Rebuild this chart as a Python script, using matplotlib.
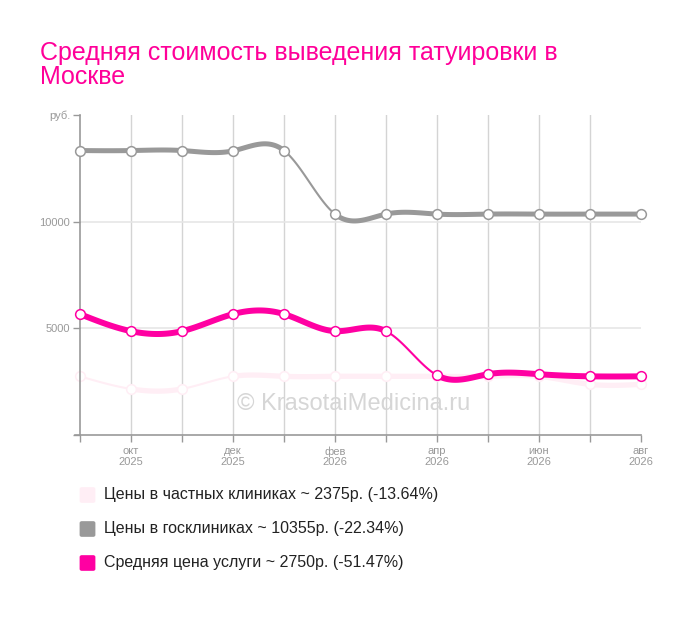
import numpy as np
import matplotlib
matplotlib.use("Agg")
import matplotlib.pyplot as plt
from matplotlib.patches import FancyBboxPatch

plt.rcParams['font.family'] = ['Liberation Sans', 'DejaVu Sans']

months = ["сен", "окт", "ноя", "дек", "янв", "фев", "мар", "апр", "май", "июн", "июл", "авг"]
years = ["2025", "2025", "2025", "2025", "2026", "2026", "2026", "2026", "2026", "2026", "2026", "2026"]
private_prices = [2750, 2160, 2160, 2750, 2750, 2750, 2750, 2750, 2750, 2750, 2375, 2375]
state_prices = [13334, 13334, 13334, 13320, 13334, 10355, 10355, 10355, 10355, 10355, 10355, 10355]
avg_prices = [5667, 4868, 4868, 5667, 5667, 4868, 4868, 2800, 2850, 2850, 2750, 2750]
legend_labels = [
    "Цены в частных клиниках ~ 2375р. (-13.64%)",
    "Цены в госклиниках ~ 10355р. (-22.34%)",
    "Средняя цена услуги ~ 2750р. (-51.47%)",
]
yticks = [0, 5000, 10000, 15000]
ytick_labels = ["", "5000", "10000", "руб."]
labeled_months = [1, 3, 5, 7, 9, 11]

C_PRIV = "#ffeef5"
C_STATE = "#999999"
C_AVG = "#ff00a2"
TXT = "#999999"


def natural_spline(x, y, xs):
    x = np.asarray(x, float)
    y = np.asarray(y, float)
    n = len(x)
    h = np.diff(x)
    A = np.zeros((n, n))
    r = np.zeros(n)
    A[0, 0] = 1
    A[-1, -1] = 1
    for i in range(1, n - 1):
        A[i, i - 1] = h[i - 1]
        A[i, i] = 2 * (h[i - 1] + h[i])
        A[i, i + 1] = h[i]
        r[i] = 3 * ((y[i + 1] - y[i]) / h[i] - (y[i] - y[i - 1]) / h[i - 1])
    c = np.linalg.solve(A, r)
    b = (y[1:] - y[:-1]) / h - h * (2 * c[:-1] + c[1:]) / 3
    d = (c[1:] - c[:-1]) / (3 * h)
    idx = np.clip(np.searchsorted(x, xs, side="right") - 1, 0, n - 2)
    dx = xs - x[idx]
    return y[idx] + b[idx] * dx + c[idx] * dx ** 2 + d[idx] * dx ** 3


fig = plt.figure(figsize=(7.0, 6.17), dpi=100)
W, H = 700, 617
ax = fig.add_axes([80 / W, (H - 435) / H, (641 - 80) / W, (435 - 115) / H])
ax.set_xlim(0, len(months) - 1)
ax.set_ylim(0, 15000)

x = np.arange(len(months))

# grid
for xi in x[1:-1]:
    ax.axvline(xi, color="#d4d4d4", lw=1, zorder=0)
for yv in [5000, 10000]:
    ax.axhline(yv, color="#e6e6e6", lw=1.2, zorder=0)

series = [
    (private_prices, C_PRIV, 3.8),
    (state_prices, C_STATE, 3.6),
    (avg_prices, C_AVG, 4.3),
]
for k, (vals, col, lw) in enumerate(series):
    for i in range(len(x) - 1):
        seg = np.linspace(x[i], x[i + 1], 80)
        ys = natural_spline(x, vals, seg)
        rel = abs(vals[i + 1] - vals[i]) / vals[i]
        w = 1.5 if rel > 0.2 else lw
        ax.plot(seg, ys, color=col, lw=w, solid_capstyle="round", zorder=2 + k)
    ax.plot(x, vals, ls="none", marker="o", ms=7, mfc="white", mec=col, mew=1.1,
            zorder=2.5 + k, clip_on=False)

for s in ["top", "right"]:
    ax.spines[s].set_visible(False)
ax.spines["left"].set_color("#999999")
ax.spines["bottom"].set_color("#999999")
ax.spines["left"].set_linewidth(1.2)
ax.spines["bottom"].set_linewidth(1.2)
ax.spines["bottom"].set_bounds(-0.1, len(months) - 1)

ax.set_yticks(yticks)
ax.set_yticklabels(ytick_labels)
ax.set_xticks(x)
ax.set_xticklabels([f"{months[i]}\n{years[i]}" if i in labeled_months else "" for i in x],
                   linespacing=1.05)
ax.tick_params(axis="both", colors="#999999", labelcolor=TXT, labelsize=8, length=5, width=1)
ax.tick_params(axis="y", pad=2)
ax.tick_params(axis="x", pad=3)

ax.text(0.487, 0.097, "© KrasotaiMedicina.ru", transform=ax.transAxes, ha="center", va="center",
        fontsize=17, color="#d6d6d6", zorder=10)

fig.text(40 / W, 1 - 41 / H, "Средняя стоимость выведения татуировки в\nМоскве",
         ha="left", va="top", fontsize=18, color="#ff0099", linespacing=1.02)

# legend
rows = [494.5, 528.5, 562.5]
cols = [C_PRIV, C_STATE, C_AVG]
for yc, col, lab in zip(rows, cols, legend_labels):
    p = FancyBboxPatch((81 / W, 1 - (yc + 7) / H), 13 / W, 13 / H,
                       boxstyle="round,pad=0.001,rounding_size=0.002",
                       transform=fig.transFigure, facecolor=col, edgecolor=col, lw=1)
    fig.patches.append(p)
    fig.text(104 / W, 1 - yc / H, lab, ha="left", va="center", fontsize=11.5, color="#222222")

fig.savefig("out.png", dpi=100)
